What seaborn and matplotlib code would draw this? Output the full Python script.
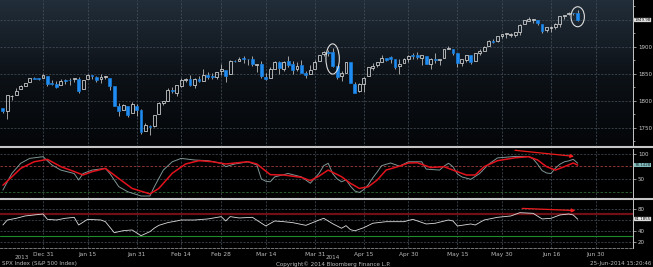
import numpy as np
import pandas as pd
import matplotlib
matplotlib.use("Agg")
import matplotlib.pyplot as plt
import seaborn as sns
from matplotlib.colors import LinearSegmentedColormap
from matplotlib.patches import Ellipse
from matplotlib.lines import Line2D

sns.set_style("dark")
plt.rcParams["font.family"] = ["DejaVu Sans"]

# ---------------- data ----------------
holidays = ["2013-12-25", "2014-01-01", "2014-01-20", "2014-02-17", "2014-04-18",
            "2014-05-26", "2014-07-04"]
start_date = "2013-12-17"
last_date = "2014-06-24"

opens = [1786.5, 1781.5, 1809.0, 1810.4, 1822.9, 1828.0, 1834.9, 1843.0, 1841.5, 1842.6,
         1845.9, 1833.2, 1832.3, 1828.7, 1837.9, 1839.0, 1840.1, 1841.3, 1821.4, 1840.5,
         1847.9, 1844.2, 1841.1, 1844.7, 1842.3, 1827.0, 1791.0, 1783.0, 1790.2, 1777.2, 1790.9,
         1782.7, 1743.8, 1753.4, 1753.0, 1776.0, 1796.2, 1800.5, 1820.1, 1814.2, 1828.5,
         1839.0, 1841.1, 1829.2, 1841.1, 1836.8, 1847.7, 1845.8, 1844.9, 1855.1,
         1857.7, 1849.2, 1874.1, 1874.2, 1878.5, 1877.9, 1878.3, 1866.2, 1869.1, 1845.1,
         1842.8, 1858.9, 1872.3, 1860.1, 1874.5, 1867.7, 1859.5, 1867.1, 1852.1, 1850.1, 1859.2,
         1874.0, 1886.6, 1891.4, 1890.3, 1863.9, 1845.5, 1852.6, 1872.3, 1830.7, 1818.2,
         1831.5, 1846.0, 1861.7, 1865.8, 1872.6, 1879.3, 1881.0, 1877.7, 1865.0, 1870.8, 1877.1,
         1884.4, 1885.3, 1879.5, 1883.7, 1868.5, 1877.4, 1875.3, 1880.0, 1896.8, 1897.1,
         1888.2, 1871.2, 1876.7, 1884.9, 1873.3, 1888.2, 1893.3, 1902.0, 1911.8, 1910.6, 1920.3,
         1923.9, 1923.1, 1923.1, 1928.5, 1942.4, 1949.0, 1950.3, 1949.4, 1943.4, 1930.8,
         1934.8, 1937.2, 1942.7, 1957.5, 1960.5, 1962.9, 1962.0]
highs = [1786.8, 1811.1, 1810.9, 1823.8, 1829.8, 1833.3, 1842.8, 1844.9, 1842.5, 1849.4,
         1845.9, 1838.2, 1837.2, 1840.1, 1840.0, 1843.2, 1843.2, 1843.5, 1839.3, 1850.8,
         1847.9, 1846.0, 1849.3, 1846.9, 1842.3, 1827.0, 1795.9, 1793.9, 1790.2, 1798.8, 1793.9,
         1784.8, 1758.7, 1755.8, 1774.1, 1798.0, 1799.9, 1823.5, 1826.6, 1830.3, 1841.7,
         1842.9, 1847.5, 1842.8, 1846.1, 1858.7, 1852.9, 1852.7, 1854.5, 1867.9,
         1857.7, 1876.2, 1876.5, 1881.9, 1883.6, 1877.9, 1882.4, 1868.4, 1874.4, 1852.4,
         1862.3, 1873.8, 1874.1, 1873.5, 1884.0, 1873.3, 1871.9, 1875.9, 1855.6, 1866.6, 1875.2,
         1885.8, 1893.2, 1893.8, 1897.3, 1864.0, 1855.0, 1872.4, 1872.5, 1835.1, 1834.2,
         1844.0, 1862.3, 1869.6, 1871.9, 1884.9, 1879.8, 1884.1, 1877.7, 1877.0, 1880.0, 1885.2,
         1888.6, 1891.3, 1885.5, 1883.7, 1878.8, 1889.1, 1878.6, 1897.1, 1902.2, 1897.1,
         1888.2, 1878.3, 1886.0, 1884.9, 1888.8, 1896.3, 1901.3, 1912.3, 1914.5, 1920.0, 1924.0,
         1925.9, 1925.1, 1928.6, 1941.7, 1949.4, 1955.6, 1950.9, 1949.4, 1943.4, 1937.3,
         1938.3, 1943.7, 1957.7, 1959.9, 1963.9, 1963.7, 1968.2]
lows = [1777.2, 1767.0, 1801.7, 1810.3, 1822.9, 1828.0, 1834.9, 1839.8, 1838.8, 1842.4,
        1827.7, 1829.1, 1823.7, 1828.7, 1831.4, 1830.4, 1834.6, 1815.5, 1821.4, 1840.5,
        1840.3, 1835.2, 1832.4, 1840.9, 1820.1, 1790.3, 1772.9, 1783.0, 1770.5, 1777.2, 1772.3,
        1739.7, 1743.8, 1737.9, 1752.6, 1776.0, 1791.8, 1800.4, 1815.1, 1809.2, 1825.6,
        1835.0, 1826.9, 1824.6, 1835.6, 1836.8, 1840.2, 1840.7, 1841.1, 1847.7,
        1834.4, 1849.2, 1871.6, 1874.2, 1870.1, 1867.0, 1863.9, 1854.4, 1841.9, 1839.6,
        1842.8, 1858.9, 1850.4, 1854.6, 1863.5, 1849.7, 1855.9, 1852.6, 1842.1, 1850.1, 1859.2,
        1874.0, 1883.8, 1882.7, 1863.3, 1841.5, 1837.5, 1852.4, 1833.1, 1814.4, 1815.8,
        1816.3, 1846.0, 1856.7, 1863.2, 1872.6, 1873.9, 1870.2, 1859.7, 1850.6, 1870.8, 1872.7,
        1878.0, 1878.5, 1866.8, 1867.7, 1859.8, 1870.1, 1867.0, 1880.0, 1896.1, 1885.8,
        1862.4, 1864.8, 1872.4, 1868.1, 1873.3, 1885.4, 1893.3, 1902.0, 1907.3, 1909.8, 1916.6,
        1916.0, 1918.8, 1918.6, 1922.9, 1942.4, 1947.2, 1944.6, 1940.1, 1925.8, 1927.7,
        1927.2, 1933.6, 1937.5, 1952.3, 1959.2, 1958.9, 1948.5]
closes = [1781.0, 1810.7, 1809.6, 1818.3, 1828.0, 1833.3, 1842.0, 1841.4, 1841.1, 1848.4,
          1832.0, 1831.4, 1826.8, 1837.9, 1837.5, 1838.1, 1842.4, 1819.2, 1838.9, 1848.4,
          1845.9, 1838.7, 1843.8, 1844.9, 1828.5, 1790.3, 1781.6, 1792.5, 1774.2, 1794.2, 1782.6,
          1741.9, 1755.2, 1751.6, 1773.4, 1797.0, 1799.8, 1819.8, 1819.3, 1829.8, 1838.6,
          1840.8, 1828.8, 1839.8, 1836.3, 1847.6, 1845.1, 1845.2, 1854.3, 1859.5,
          1845.7, 1873.9, 1873.8, 1877.0, 1878.0, 1877.2, 1867.6, 1868.2, 1846.3, 1841.1,
          1858.8, 1872.3, 1860.8, 1872.0, 1866.5, 1857.4, 1865.6, 1852.6, 1849.0, 1857.6, 1872.3,
          1885.5, 1890.9, 1888.8, 1865.1, 1845.0, 1852.0, 1872.2, 1833.1, 1815.7, 1830.6,
          1843.0, 1862.3, 1864.9, 1871.9, 1879.6, 1875.4, 1878.6, 1863.4, 1869.4, 1878.3, 1884.0,
          1883.7, 1881.1, 1884.7, 1867.7, 1878.2, 1875.6, 1878.5, 1896.7, 1897.5, 1888.5,
          1870.9, 1877.9, 1885.1, 1872.8, 1888.0, 1892.5, 1900.5, 1911.9, 1909.8, 1920.0, 1923.6,
          1925.0, 1924.2, 1927.9, 1940.5, 1949.4, 1951.3, 1950.8, 1943.9, 1930.1, 1936.2,
          1937.8, 1942.0, 1957.0, 1959.5, 1962.9, 1962.6, 1950.0]

stoch_k_dates = ["2013-12-17", "2013-12-19", "2013-12-23", "2013-12-26", "2013-12-31",
                 "2014-01-03", "2014-01-07", "2014-01-10", "2014-01-13", "2014-01-14",
                 "2014-01-16", "2014-01-22", "2014-01-23", "2014-01-27", "2014-01-29",
                 "2014-02-03", "2014-02-05", "2014-02-06", "2014-02-10", "2014-02-12",
                 "2014-02-14", "2014-02-20", "2014-02-25", "2014-02-28", "2014-03-03",
                 "2014-03-05", "2014-03-10", "2014-03-12", "2014-03-13", "2014-03-14",
                 "2014-03-17", "2014-03-18", "2014-03-21", "2014-03-26", "2014-03-28",
                 "2014-04-01", "2014-04-02", "2014-04-03", "2014-04-04", "2014-04-07",
                 "2014-04-08", "2014-04-09", "2014-04-10", "2014-04-11", "2014-04-14",
                 "2014-04-15", "2014-04-16", "2014-04-17", "2014-04-21", "2014-04-22",
                 "2014-04-24", "2014-04-28", "2014-04-30", "2014-05-05", "2014-05-06",
                 "2014-05-09", "2014-05-12", "2014-05-13", "2014-05-14", "2014-05-15",
                 "2014-05-16", "2014-05-20", "2014-05-22", "2014-05-27", "2014-05-29",
                 "2014-06-04", "2014-06-09", "2014-06-10", "2014-06-11", "2014-06-12",
                 "2014-06-13", "2014-06-16", "2014-06-17", "2014-06-18", "2014-06-19",
                 "2014-06-20", "2014-06-23", "2014-06-24"]
stoch_k = [27, 61, 82, 92, 95.5, 78.5, 68, 61, 47.6, 61, 68, 71.5, 61, 34, 23.6,
           14.8, 14.8, 34, 68, 85, 92, 88.7, 87.3, 82, 75, 80.5, 85, 78.5, 50, 45,
           44, 54, 61, 54, 41, 62, 77, 82, 61, 50, 44, 48, 35, 25, 22,
           28, 38, 52, 64, 77, 82.6, 76, 85, 85, 70, 68, 76, 82, 75, 60,
           54, 49, 61, 80, 93, 96, 96, 91, 80, 67, 62, 61, 72, 80, 85, 87, 90, 82]

stoch_d_dates = ["2013-12-17", "2013-12-19", "2013-12-23", "2013-12-27", "2014-01-02",
                 "2014-01-07", "2014-01-10", "2014-01-14", "2014-01-16", "2014-01-22",
                 "2014-01-27", "2014-01-30", "2014-02-05", "2014-02-07", "2014-02-12",
                 "2014-02-18", "2014-02-21", "2014-02-26", "2014-03-03", "2014-03-10",
                 "2014-03-12", "2014-03-17", "2014-03-20", "2014-03-26", "2014-03-28",
                 "2014-04-01", "2014-04-03", "2014-04-08", "2014-04-10", "2014-04-14",
                 "2014-04-16", "2014-04-21", "2014-04-23", "2014-04-28", "2014-04-30",
                 "2014-05-02", "2014-05-07", "2014-05-12", "2014-05-14", "2014-05-19",
                 "2014-05-21", "2014-05-23", "2014-05-29", "2014-06-04", "2014-06-09",
                 "2014-06-11", "2014-06-13", "2014-06-17", "2014-06-19", "2014-06-23",
                 "2014-06-24"]
stoch_d = [37, 54, 71.5, 85, 90, 75, 65, 58, 64.7, 71.5, 50.7, 30.4, 19, 30.4, 61.4,
           80.5, 87.3, 85.2, 80.5, 85.2, 80.5, 58.6, 57.9, 53.1, 46.3, 56, 68, 54.4,
           40.8, 30.4, 33.8, 47.6, 68, 76, 82.6, 83, 73.3, 75, 68, 57.9, 57.9, 75,
           87.3, 93.3, 95.5, 88.7, 75, 68, 75, 82.6, 78.1]

rsi_dates = ["2013-12-17", "2013-12-18", "2013-12-20", "2013-12-24", "2013-12-31",
             "2014-01-02", "2014-01-06", "2014-01-08", "2014-01-10", "2014-01-13",
             "2014-01-15", "2014-01-21", "2014-01-22", "2014-01-24", "2014-01-28",
             "2014-01-30", "2014-02-03", "2014-02-05", "2014-02-06", "2014-02-07",
             "2014-02-11", "2014-02-13", "2014-02-14", "2014-02-20", "2014-02-25",
             "2014-02-28", "2014-03-03", "2014-03-04", "2014-03-06", "2014-03-11",
             "2014-03-14", "2014-03-18", "2014-03-20", "2014-03-24", "2014-03-27",
             "2014-04-01", "2014-04-02", "2014-04-04", "2014-04-07", "2014-04-08",
             "2014-04-09", "2014-04-10", "2014-04-11", "2014-04-15", "2014-04-17",
             "2014-04-23", "2014-04-29", "2014-05-01", "2014-05-06", "2014-05-08",
             "2014-05-13", "2014-05-14", "2014-05-15", "2014-05-20", "2014-05-21",
             "2014-05-23", "2014-05-29", "2014-06-03", "2014-06-05", "2014-06-10",
             "2014-06-12", "2014-06-16", "2014-06-18", "2014-06-20", "2014-06-23",
             "2014-06-24"]
rsi = [50.6, 59.8, 62.9, 67.2, 70.8, 61, 59.8, 62.9, 64.7, 50.6, 61, 59.8, 56.7,
       36.5, 40.2, 41.5, 31, 38.4, 45, 50, 55, 58, 59.8, 59.8, 61.7, 65.9, 58, 66,
       63.5, 64.7, 48.8, 58, 56.7, 55, 50, 59.8, 62.9, 53, 48.8, 44.6, 49.4, 42, 40,
       45.7, 53.8, 56.7, 56.7, 61, 52.5, 53.8, 59.8, 58, 48.8, 52.5, 50.6, 59.8,
       64.7, 67.2, 73.2, 72, 61.7, 62.9, 69, 70.8, 69, 61.2]

tick_dates = ["2013-12-31", "2014-01-15", "2014-01-31", "2014-02-14", "2014-02-28",
              "2014-03-14", "2014-03-31", "2014-04-15", "2014-04-30", "2014-05-15",
              "2014-05-30", "2014-06-16", "2014-06-30"]
tick_labels = ["Dec 31", "Jan 15", "Jan 31", "Feb 14", "Feb 28", "Mar 14", "Mar 31",
               "Apr 15", "Apr 30", "May 15", "May 30", "Jun 16", "Jun 30"]
price_ticks = [1750, 1800, 1850, 1900]
last_price = 1949.98
stoch_last = "78.1428"
rsi_last = "61.1855"

# ---------------- trading-day axis ----------------
cal = pd.bdate_range(start_date, "2014-07-31")
cal = cal[~cal.isin(pd.to_datetime(holidays))]
pos = {d: i for i, d in enumerate(cal)}
def P(ds):
    return np.array([pos[pd.Timestamp(d)] for d in ds])

days = cal[cal <= pd.Timestamp(last_date)]
xi = np.arange(len(days))
df = pd.DataFrame({"x": xi, "open": opens, "high": highs, "low": lows, "close": closes})

# pixel mapping helpers (figure 653x267)
W, H = 653, 267
def box(x0, y0, x1, y1):
    return [x0 / W, 1 - y1 / H, (x1 - x0) / W, (y1 - y0) / H]

dec31 = pos[pd.Timestamp("2013-12-31")]
pxday = 4.456
xlim = (dec31 - 43 / pxday, dec31 + (633 - 43) / pxday)

fig = plt.figure(figsize=(6.53, 2.67), dpi=100)
fig.patch.set_facecolor("black")
ax1 = fig.add_axes(box(0, 0, 633, 146.5))
ax2 = fig.add_axes(box(0, 148.5, 633, 198))
ax3 = fig.add_axes(box(0, 199.5, 633, 248))

ylim1 = (1715.7, 1987.0)
ylim2 = (10.7, 112.3)
ylim3 = (8.4, 97.4)

tick_x = P(tick_dates)
grid_kw = dict(color="#48535d", lw=0.5, ls=(0, (3, 2)), zorder=1)

for ax, yl in [(ax1, ylim1), (ax2, ylim2), (ax3, ylim3)]:
    ax.set_facecolor("black")
    ax.set_xlim(*xlim)
    ax.set_ylim(*yl)
    for s in ["left", "top", "bottom"]:
        ax.spines[s].set_visible(False)
    ax.spines["right"].set_color("#c8c8c8")
    ax.spines["right"].set_linewidth(0.7)
    ax.yaxis.tick_right()
    ax.tick_params(axis="y", colors="#cccccc", labelsize=4.0, length=2, width=0.5, pad=1.5)
    ax.tick_params(axis="x", length=0)
    ax.grid(False)
    for t in tick_x:
        ax.axvline(t, **grid_kw)

# ---- top panel: gradient background + candles ----
cmap = LinearSegmentedColormap.from_list("bg", ["#040608", "#0d1218", "#222e3a"])
ax1.imshow(np.linspace(0, 1, 256).reshape(-1, 1), cmap=cmap, aspect="auto",
           extent=[xlim[0], xlim[1], ylim1[0], ylim1[1]], origin="lower", zorder=0)
for v in price_ticks + [1950]:
    ax1.axhline(v, **grid_kw)

up = df["close"] >= df["open"]
body_lo = np.minimum(df["open"], df["close"])
body_hi = np.maximum(df["open"], df["close"])
body_h = np.maximum(body_hi - body_lo, 0.9)
ax1.vlines(df["x"], df["low"], body_lo, color="#b8b8b8", lw=0.6, zorder=2)
ax1.vlines(df["x"], body_hi, df["high"], color="#b8b8b8", lw=0.6, zorder=2)
ax1.bar(df["x"][up], body_h[up], bottom=body_lo[up], width=0.64,
        facecolor="none", edgecolor="#dadada", linewidth=0.55, zorder=3)
ax1.bar(df["x"][~up], body_h[~up], bottom=body_lo[~up], width=0.64,
        facecolor="#1e8cf2", edgecolor="#1e8cf2", linewidth=0.4, zorder=3)

ax1.set_yticks(price_ticks)
ax1.set_yticklabels([str(v) for v in price_ticks])
ax1.set_yticks(np.arange(1725, 1990, 25), minor=True)
ax1.tick_params(axis="y", which="minor", length=1.5, colors="#cccccc", width=0.5)
ax1.set_xticks([])

tag_kw = dict(fontsize=2.9, va="center", ha="left")
ax1.text(1.0025, last_price, f"{last_price:.2f}", transform=ax1.get_yaxis_transform(),
         color="black", bbox=dict(boxstyle="square,pad=0.06", fc="#f2f2f2", ec="#888888", lw=0.3),
         **tag_kw)

ell_pts = [("2014-04-04", 1877.8, 56), ("2014-06-24", 1956.0, 37)]
for d, yc, hh in ell_pts:
    ax1.add_patch(Ellipse((P([d])[0], yc), 3.0, hh, fill=False, ec="#dddddd", lw=0.8, zorder=4))

# ---- stochastic panel ----
for v in [100, 50]:
    ax2.axhline(v, **grid_kw)
ax2.axhline(76, color="#a23a3a", lw=0.6, ls=(0, (3, 2)), zorder=1)
ax2.axhline(24, color="#2f6a2f", lw=0.6, ls=(0, (3, 2)), zorder=1)
sns.lineplot(x=P(stoch_k_dates), y=stoch_k, ax=ax2, color="#7f9595", lw=0.7, zorder=3)
sns.lineplot(x=P(stoch_d_dates), y=stoch_d, ax=ax2, color="#e3121c", lw=1.1, zorder=4)
ax2.set_yticks([50, 100])
ax2.set_yticklabels(["50", "100"])
ax2.set_xticks([])
ax2.set_ylabel("")
ax2.text(1.0025, 78.1, stoch_last, transform=ax2.get_yaxis_transform(), color="#10202a",
         bbox=dict(boxstyle="square,pad=0.06", fc="#84bcbc", ec="none"), **tag_kw)
ax2.annotate("", xy=(P(["2014-06-24"])[0] - 0.2, 95.5), xytext=(P(["2014-06-03"])[0] + 0.3, 109.2),
             arrowprops=dict(arrowstyle="-|>", color="#ee1c1c", lw=0.9, mutation_scale=5),
             zorder=5)

# ---- RSI panel ----
for v in [80, 60, 40, 20]:
    ax3.axhline(v, **grid_kw)
ax3.axhline(70, color="#6e1016", lw=1.6, zorder=1)
ax3.axhline(30, color="#1f8a2a", lw=0.8, zorder=1)
sns.lineplot(x=P(rsi_dates), y=rsi, ax=ax3, color="#dcdcdc", lw=0.6, zorder=3)
ax3.set_yticks([20, 40, 80])
ax3.set_yticklabels(["20", "40", "80"])
ax3.set_ylabel("")
ax3.text(1.0025, 61.2, rsi_last, transform=ax3.get_yaxis_transform(), color="black",
         bbox=dict(boxstyle="square,pad=0.06", fc="#f2f2f2", ec="#888888", lw=0.3), **tag_kw)
ax3.annotate("", xy=(P(["2014-06-24"])[0] + 0.1, 76.9), xytext=(P(["2014-06-05"])[0] - 0.1, 81.3),
             arrowprops=dict(arrowstyle="-|>", color="#ee1c1c", lw=0.9, mutation_scale=5),
             zorder=5)
ax3.spines["bottom"].set_visible(True)
ax3.spines["bottom"].set_color("#8a8a8a")
ax3.spines["bottom"].set_linewidth(0.6)
ax3.spines["bottom"].set_linestyle((0, (3, 2)))
ax3.set_xticks(tick_x)
ax3.set_xticklabels(tick_labels)
ax3.tick_params(axis="x", colors="#bbbbbb", labelsize=4.2, length=2, width=0.5, pad=1)

# separators
for yp in [147.4, 198.8]:
    fig.add_artist(Line2D([0, 1], [1 - yp / H] * 2, color="#c6c6c6", lw=1.5,
                          transform=fig.transFigure))

# footer texts
ft = dict(fontsize=4.1, color="#bbbbbb", va="center")
fig.text(22 / W, 1 - 257.5 / H, "2013", ha="center", **ft)
fig.text(333 / W, 1 - 257.5 / H, "2014", ha="center", **ft)
fig.text(2 / W, 1 - 264 / H, "SPX Index (S&P 500 Index)", ha="left", **ft)
fig.text(333 / W, 1 - 264 / H, "Copyright\u00a9 2014 Bloomberg Finance L.P.", ha="center", **ft)
fig.text(651 / W, 1 - 264 / H, "25-Jun-2014 15:20:46", ha="right", **ft)

fig.savefig("out.png", dpi=100, facecolor="black")
